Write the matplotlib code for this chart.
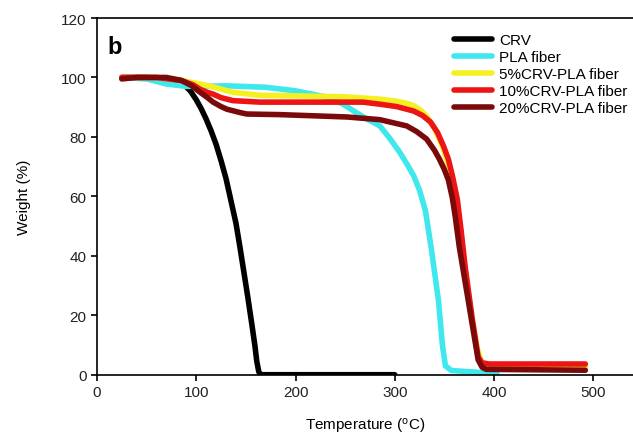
import numpy as np
import matplotlib.pyplot as plt

plt.rcParams['font.family'] = ['Liberation Sans', 'DejaVu Sans']

# ---- data (temperature degC, weight %) ----
crv_t = [25, 50, 70, 80, 87, 94, 100, 105, 110, 115, 120, 125, 130, 135, 140,
         144, 148, 152, 156, 159, 161, 163, 165, 300]
crv_w = [100, 100, 99.6, 99, 97.8, 95.5, 92.5, 89.5, 86, 82, 77.5, 72, 66, 58.5, 51,
         43, 34.5, 26, 17, 10, 4.5, 1, 0, 0]

pla_t = [25, 50, 70, 90, 110, 130, 170, 200, 230, 248, 262, 272, 285, 295, 305,
         312, 319, 325, 331, 337, 344, 348, 351, 357, 380, 403]
pla_w = [100, 99.5, 97.8, 97, 97, 97.2, 96.7, 95.5, 93.5, 91, 88, 86, 83.7, 79.5, 74.8,
         71, 67, 62, 55, 42, 25, 10, 3, 1.4, 0.9, 0.3]

crv5_t = [25, 60, 80, 104, 117, 137, 164, 200, 250, 285, 302, 312, 319, 326, 332,
          340, 349, 358, 364, 370, 377, 383, 388, 395, 492]
crv5_w = [100, 100, 99.3, 97.8, 96.8, 95, 94, 93.8, 93.5, 92.7, 92, 91.3, 90.5, 89, 87,
          83, 76, 66, 55, 38, 20, 9, 3.5, 2.7, 2.7]

crv10_t = [25, 60, 85, 97, 104, 111, 117, 125, 137, 164, 268, 285, 302, 319, 328,
           336, 343, 349, 354, 358, 363, 367, 371, 378, 384, 388, 395, 492]
crv10_w = [100, 100, 99, 97.5, 96, 95, 94.4, 93.2, 92.2, 91.7, 91.7, 91, 90.2, 88.7, 87.2,
           85, 81.5, 77, 72.5, 67, 59, 48, 36, 19, 6, 4, 3.6, 3.6]

crv20_t = [25, 40, 70, 85, 95, 104, 111, 117, 125, 131, 137, 144, 151, 184, 252,
           285, 312, 322, 332, 340, 345, 350, 354, 358, 361, 365, 369, 377, 384,
           388, 392, 492]
crv20_w = [99.5, 100, 100, 99, 97.3, 95, 93.3, 91.7, 90.2, 89.3, 88.8, 88.2, 87.7, 87.5, 86.7,
           85.8, 83.7, 81.8, 79.3, 75.5, 72.5, 69, 65.5, 59.5, 53, 43, 35, 19, 5,
           2.5, 1.8, 1.5]

labels = ['CRV', 'PLA fiber', '5%CRV-PLA fiber', '10%CRV-PLA fiber', '20%CRV-PLA fiber']
colors = ['#000000', '#3ee8ec', '#f5f022', '#ec1414', '#7a0a0a']

fig = plt.figure(figsize=(6.33, 4.39), dpi=100)
ax = fig.add_axes([0.1532, 0.1442, 0.8468, 0.8125])

series = [(crv_t, crv_w), (pla_t, pla_w), (crv5_t, crv5_w),
          (crv10_t, crv10_w), (crv20_t, crv20_w)]
for (t, w), lab, c in zip(series, labels, colors):
    ax.plot(t, w, color=c, lw=4, label=lab, solid_capstyle='round',
            solid_joinstyle='round')

ax.set_xlim(0, 540)
ax.set_ylim(0, 120)
ax.set_xticks(np.arange(0, 501, 100))
ax.set_yticks(np.arange(0, 121, 20))
ax.spines['right'].set_visible(False)
for s in ['left', 'bottom', 'top']:
    ax.spines[s].set_linewidth(1.2)
ax.tick_params(direction='out', length=4, width=1.2, labelsize=11,
               labelcolor='#222222')

ax.set_xlabel('Temperature ($\\mathregular{^{o}}$C)', fontsize=11, labelpad=12)
ax.set_ylabel('Weight (%)', fontsize=11, labelpad=22)

ax.text(11, 110.5, 'b', fontsize=17, fontweight='bold', va='center', ha='left')

ax.legend(loc='upper left', bbox_to_anchor=(0.655, 0.975), frameon=False,
          fontsize=11, handlelength=2.5, handletextpad=0.45, labelspacing=0.2,
          borderaxespad=0)

fig.savefig('out.png', dpi=100)
